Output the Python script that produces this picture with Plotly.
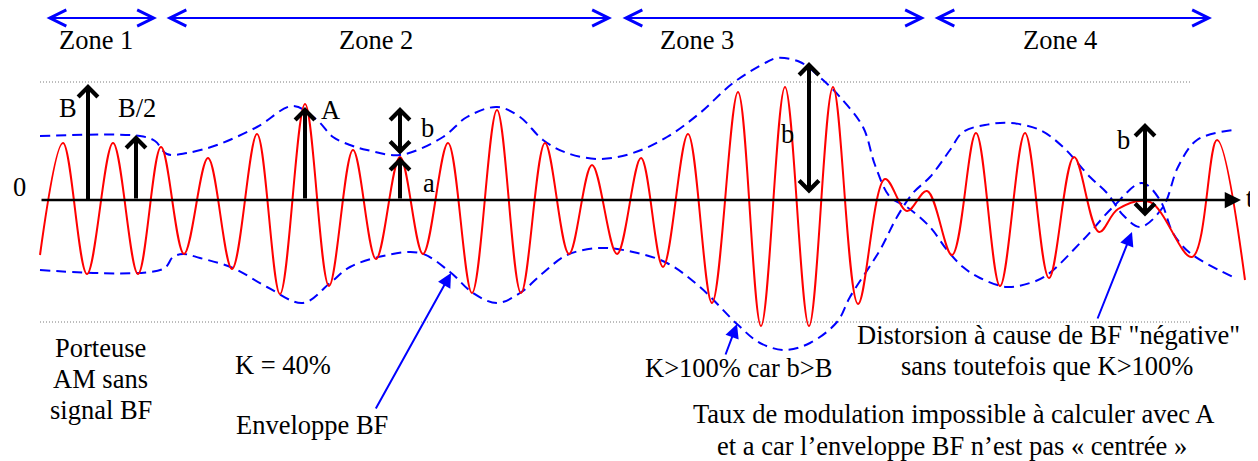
import plotly.graph_objects as go

# ---------------------------------------------------------------
# AM signal: carrier extrema (x in px along t, amplitude in px above the 0 axis)
# ---------------------------------------------------------------
carrier_x = [40, 63, 87, 113, 138, 161, 184, 208, 232, 257, 280, 305, 329, 353, 376,
             400, 423, 448, 472, 497, 521, 545, 569, 592, 617, 641, 663, 688, 712,
             738, 761, 785, 809, 833, 858, 885, 907, 927, 952, 976, 1000, 1025, 1049,
             1074, 1099, 1118, 1150, 1192, 1217, 1245]
carrier_v = [-55, 57, -74, 57, -74, 53, -54, 42, -69, 66, -94, 96, -86, 50, -59,
             43, -54, 57, -93, 90, -93, 57, -54, 35, -54, 42, -67, 66, -103,
             108, -126, 113, -126, 113, -104, 21, -11, 9, -55, 67, -86, 67, -78,
             43, -32, -9, -2, -57, 60, -80]

# upper envelope (becomes the lower one in zone 4)
env_up_x = [40, 140, 155, 167, 187, 217, 257, 293, 317, 333, 350, 367, 400, 443, 467,
            497, 520, 543, 567, 600, 633, 667, 700, 733, 767, 777, 800, 823, 840, 863,
            875, 890, 907, 930, 947, 963, 980, 1007, 1030, 1047, 1083, 1113, 1142,
            1160, 1173, 1190, 1233]
env_up_v = [64, 64, 59, 46, 47, 55, 73, 94, 80, 63, 55, 50, 45, 63, 83,
            93, 83, 60, 47, 41, 47, 63, 87, 117, 138, 142, 138, 120, 103, 73,
            35, 3, -7, -27, -50, -67, -78, -87, -83, -75, -40, -7, 17,
            0, -33, -53, -77]

# lower envelope (becomes the upper one in zone 4)
env_lo_x = [40, 163, 173, 183, 200, 233, 267, 303, 330, 350, 383, 420, 450, 473, 497,
            520, 543, 567, 600, 633, 667, 700, 737, 760, 785, 810, 837, 850, 880, 897,
            913, 930, 950, 963, 985, 1010, 1040, 1063, 1090, 1107, 1123, 1140, 1163,
            1178, 1197, 1233]
env_lo_v = [-70, -69, -57, -54, -58, -68, -87, -103, -83, -67, -56, -53, -72, -93, -103,
            -93, -73, -55, -48, -52, -63, -87, -124, -143, -150, -143, -122, -97, -50, -17,
            7, 23, 50, 68, 75, 77, 70, 53, 23, 7, -15, -27, -7,
            33, 60, 70]

# reference levels (dotted) : +B and -B
level_x = [40, 1192]
level_b = 118
level_mb = -122

# measured quantities drawn as black arrows
meas_x = [88, 136, 305, 400, 400, 809, 1145]
meas_from = [-2, 0, 0, 0, 44, 5, -18]
meas_to = [116, 65, 93, 43, 93, 138, 77]
meas_double = [False, False, False, False, True, True, True]
meas_labels = ["B", "B/2", "A", "a", "b", "b", "b"]
meas_label_x = [68, 137, 330, 429, 427, 787, 1123]
meas_label_v = [92, 92, 90, 17, 72, 66, 60]

# zones
zone_labels = ["Zone 1", "Zone 2", "Zone 3", "Zone 4"]
zone_start = [45, 165, 621, 933]
zone_end = [157, 612, 925, 1212]
zone_center = [96, 376, 697, 1060]

RED = "#FF0000"
BLUE = "#0000FF"
FONT = "Liberation Serif"
FS = 26.5

# the page body has an 8px margin: the figure is 8px smaller and the
# ranges start 8px later so one data unit stays one screen pixel
PAD = 8

fig = go.Figure()

for lv in (level_b, level_mb):
    fig.add_trace(go.Scatter(
        x=level_x, y=[lv, lv], mode="lines",
        line=dict(color="#7a7a7a", width=1, dash="1px,2px"),
        hoverinfo="skip"))

fig.add_trace(go.Scatter(
    x=env_up_x, y=env_up_v, mode="lines",
    line=dict(color=BLUE, width=2, dash="10px,6px", shape="spline", smoothing=1),
    hoverinfo="skip"))
fig.add_trace(go.Scatter(
    x=env_lo_x, y=env_lo_v, mode="lines",
    line=dict(color=BLUE, width=2, dash="10px,6px", shape="spline", smoothing=1),
    hoverinfo="skip"))

fig.add_trace(go.Scatter(
    x=carrier_x, y=carrier_v, mode="lines",
    line=dict(color=RED, width=2, shape="spline", smoothing=1),
    hoverinfo="skip"))


def arrow(x0, y0, x1, y1, color, width, head, size, both=False):
    return dict(
        x=x1, y=y1, ax=x0, ay=y0,
        xref="x", yref="y", axref="x", ayref="y",
        text="", showarrow=True,
        arrowhead=head, arrowsize=size, arrowwidth=width, arrowcolor=color,
        arrowside="end+start" if both else "end",
        startarrowhead=head, startarrowsize=size,
    )


def label(x, y, txt, size=FS):
    return dict(x=x, y=y, xref="x", yref="y", text=txt, showarrow=False,
                font=dict(family=FONT, size=size, color="black"))


ann = []

# time axis
ann.append(arrow(40, 0, 1241, 0, "black", 2.5, 2, 1.3))
ann.append(label(19, 13, "0"))
ann.append(label(1250, 2, "t"))

# zones
for lab, x0, x1, xc in zip(zone_labels, zone_start, zone_end, zone_center):
    ann.append(arrow(x0, 182, x1, 182, BLUE, 2, 5, 1.6, both=True))
    ann.append(label(xc, 160, lab))

# measured amplitudes
for x, v0, v1, dbl, lab, lx, lv in zip(meas_x, meas_from, meas_to, meas_double,
                                       meas_labels, meas_label_x, meas_label_v):
    ann.append(arrow(x, v0, x, v1, "black", 4, 4, 0.95, both=dbl))
    ann.append(label(lx, lv, lab))

# explanations
ann.append(arrow(375, -210, 451, -73, BLUE, 2, 2, 1.4))
ann.append(arrow(725, -156, 737, -124, BLUE, 2, 2, 1.4))
ann.append(arrow(1097, -120, 1132, -32, BLUE, 2, 2, 1.4))

ann.append(label(100, -148, "Porteuse"))
ann.append(label(100, -179, "AM sans"))
ann.append(label(101, -210, "signal BF"))
ann.append(label(283, -165, "K = 40%"))
ann.append(label(312, -225, "Enveloppe BF"))
ann.append(label(738, -168, "K&gt;100% car b&gt;B"))
ann.append(label(1048, -135, "Distorsion à cause de BF \"négative\""))
ann.append(label(1047, -166, "sans toutefois que K&gt;100%"))
ann.append(label(953, -214, "Taux de modulation impossible à calculer avec A"))
ann.append(label(952, -246, "et a car l’enveloppe BF n’est pas « centrée »"))

fig.update_layout(
    width=1258 - PAD, height=461 - PAD,
    margin=dict(l=0, r=0, t=0, b=0),
    paper_bgcolor="white", plot_bgcolor="white",
    showlegend=False,
    xaxis=dict(range=[PAD, 1258], visible=False, fixedrange=True),
    yaxis=dict(range=[-261, 200 - PAD], visible=False, fixedrange=True),
    annotations=ann,
)

fig.write_html("out.html")
